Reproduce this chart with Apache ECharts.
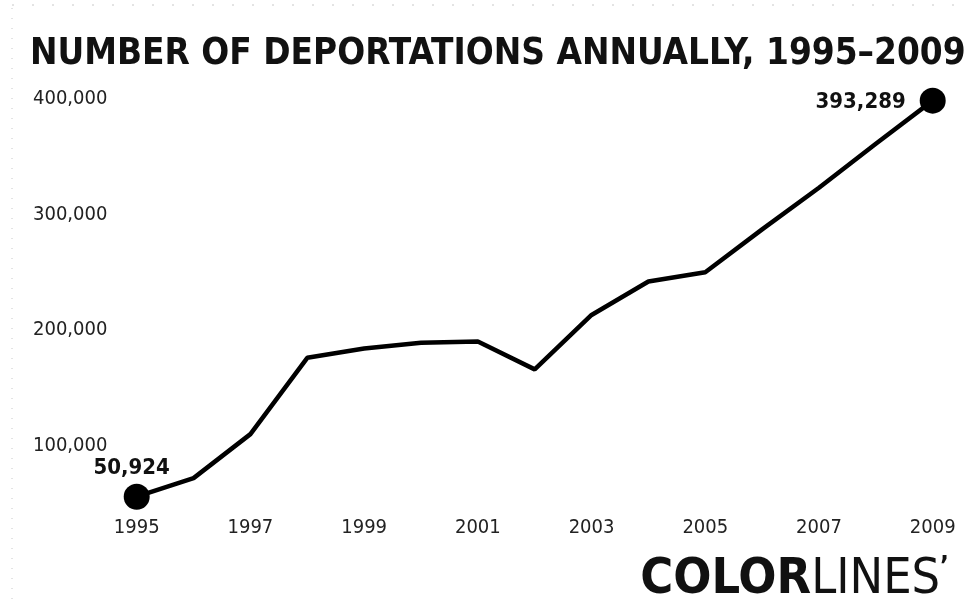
<!DOCTYPE html>
<html>
<head>
<meta charset="utf-8">
<script src="https://cdn.jsdelivr.net/npm/echarts@6/dist/echarts.min.js"></script>
<style>html,body{margin:0;padding:0;background:#fff}#c{width:971px;height:604px}</style>
</head>
<body>
<div id="c"></div>
<script>
const titleText = 'NUMBER OF DEPORTATIONS ANNUALLY, 1995–2009';
const years = ['1995','1996','1997','1998','1999','2000','2001','2002','2003','2004','2005','2006','2007','2008','2009'];
const deportations = [50924, 67000, 105000, 171000, 179000, 184000, 185000, 161000, 208000, 237000, 245000, 282000, 318000, 356000, 393289];
const yTicks = [0, 100000, 200000, 300000, 400000];
const highlighted = ['1995', '2009'];

const FONT = "'DejaVu Sans Condensed', 'Liberation Sans Narrow', 'DejaVu Sans', sans-serif";
const chart = echarts.init(document.getElementById('c'), null, {renderer: 'canvas'});

const seriesData = deportations.map((v, i) => {
  const isEnd = highlighted.includes(years[i]);
  const item = {value: v};
  if (isEnd) {
    item.symbol = 'circle';
    item.symbolSize = 26;
    item.label = {
      show: true,
      formatter: (p) => p.value.toLocaleString('en-US'),
      fontFamily: FONT,
      fontWeight: 'bold',
      fontSize: 22,
      color: '#111'
    };
    if (i === 0) { item.label.position = 'top'; item.label.distance = 4; item.label.offset = [-5, 0]; }
    else { item.label.position = 'left'; item.label.distance = 14; item.label.offset = [0, 2]; }
  } else {
    item.symbol = 'none';
    item.symbolSize = 0;
  }
  return item;
});

chart.setOption({
  backgroundColor: '#ffffff',
  animation: false,
  title: {
    text: titleText,
    left: 25,
    top: 31,
    textStyle: {fontFamily: FONT, fontWeight: 'bold', fontSize: 36.6, color: '#111'}
  },
  grid: {left: 136.7, right: 38.3, top: 92.9, bottom: 48.4, containLabel: false},
  xAxis: {
    type: 'category',
    data: years,
    boundaryGap: false,
    axisLine: {show: false},
    axisTick: {show: false},
    splitLine: {show: false},
    axisLabel: {
      interval: 1,
      margin: -38,
      fontFamily: FONT,
      fontSize: 20,
      color: '#222'
    }
  },
  yAxis: {
    type: 'value',
    min: yTicks[0],
    max: yTicks[yTicks.length - 1],
    interval: 100000,
    axisLine: {show: false},
    axisTick: {show: false},
    splitLine: {show: false},
    axisLabel: {
      align: 'left',
      margin: 103.7,
      formatter: (v) => v === 0 ? '' : '{a|' + v.toLocaleString('en-US') + '}',
      rich: {
        a: {fontFamily: FONT, fontSize: 20, color: '#222', padding: [12, 0, 0, 0]}
      }
    }
  },
  series: [{
    type: 'line',
    data: seriesData,
    showSymbol: true,
    lineStyle: {color: '#000', width: 4.5},
    itemStyle: {color: '#000'},
    z: 3
  }],
  graphic: [
    {
      type: 'text',
      right: 22,
      bottom: -1,
      style: {
        text: '{b|COLOR}{r|LINES}{s|’}',
        rich: {
          b: {fontFamily: FONT, fontWeight: 'bold', fontSize: 50, fill: '#111'},
          r: {fontFamily: FONT, fontWeight: 'normal', fontSize: 50, fill: '#111'},
          s: {fontFamily: FONT, fontWeight: 'bold', fontSize: 26, fill: '#111', verticalAlign: 'top', padding: [0,0,22,0]}
        }
      }
    },
    {
      type: 'line',
      shape: {x1: 12, y1: 8, x2: 12, y2: 600},
      style: {stroke: '#c8c8c8', lineWidth: 1, lineDash: [1, 9]}
    },
    {
      type: 'line',
      shape: {x1: 12, y1: 5, x2: 965, y2: 5},
      style: {stroke: '#c8c8c8', lineWidth: 1, lineDash: [2, 18]}
    }
  ]
});
</script>
</body>
</html>
